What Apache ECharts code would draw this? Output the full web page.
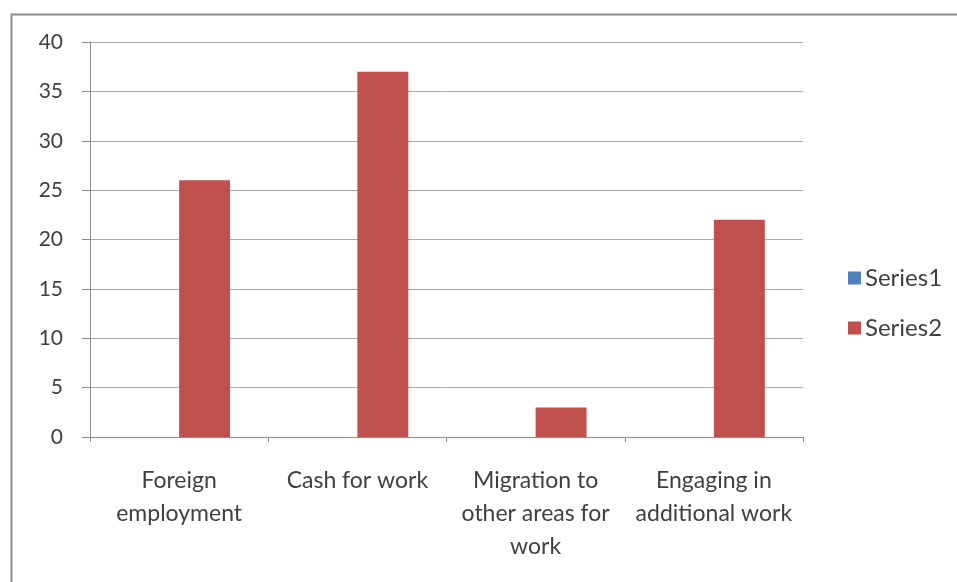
<!DOCTYPE html>
<html>
<head>
<meta charset="utf-8">
<script src="https://cdn.jsdelivr.net/npm/echarts@6/dist/echarts.min.js"></script>
<style>
  html, body { margin: 0; padding: 0; background: #ffffff; }
  #chart { width: 957px; height: 582px; }
</style>
</head>
<body>
<div id="chart"></div>
<script>
// Coping strategies, two series per category
const categories = [
  'Foreign\nemployment',
  'Cash for work',
  'Migration to\nother areas for\nwork',
  'Engaging in\nadditional work'
];
const series1Values = [0, 0, 0, 0];
const series2Values = [26, 37, 3, 22];
const seriesNames = ['Series1', 'Series2'];
const yMin = 0, yMax = 40, yStep = 5;

const textColor = '#404040';
const fontFamily = 'Lato, "Open Sans", sans-serif';

// one legend entry per box so each row can be placed on its own
function legendEntry(name, top) {
  return {
    orient: 'vertical',
    left: 843,
    top: top,
    itemWidth: 13,
    itemHeight: 13,
    itemGap: 0,
    icon: 'rect',
    data: [name],
    textStyle: { color: textColor, fontSize: 24, fontFamily: fontFamily, padding: [0, 0, 0, -1] }
  };
}

const chart = echarts.init(document.getElementById('chart'), null, { renderer: 'canvas' });

chart.setOption({
  animation: false,
  backgroundColor: '#ffffff',
  graphic: [{
    type: 'rect',
    left: 9,
    top: 12,
    shape: { width: 1000, height: 700 },
    style: { fill: 'none', stroke: '#8c8c8c', lineWidth: 2 },
    silent: true
  }],
  grid: { left: 90, right: 154, top: 42, bottom: 145, containLabel: false },
  legend: [legendEntry(seriesNames[0], 261), legendEntry(seriesNames[1], 311)],
  xAxis: {
    type: 'category',
    data: categories,
    boundaryGap: true,
    axisLine: { lineStyle: { color: '#8c8c8c', width: 1 } },
    axisTick: { show: true, length: 5, lineStyle: { color: '#8c8c8c' } },
    axisLabel: {
      interval: 0,
      margin: 27,
      color: textColor,
      fontSize: 23,
      lineHeight: 33,
      fontFamily: fontFamily,
      align: 'center'
    },
    splitLine: { show: false }
  },
  yAxis: {
    type: 'value',
    min: yMin,
    max: yMax,
    interval: yStep,
    axisLine: { show: true, lineStyle: { color: '#8c8c8c', width: 1 } },
    axisTick: { show: true, length: 8, lineStyle: { color: '#8c8c8c' } },
    axisLabel: { margin: 27, color: textColor, fontSize: 21, fontFamily: fontFamily },
    splitLine: { show: true, lineStyle: { color: '#ababab', width: 1 } }
  },
  series: [
    {
      name: seriesNames[0],
      type: 'bar',
      data: series1Values,
      itemStyle: { color: '#4F81BD' },
      barGap: '0%',
      barCategoryGap: '42.86%'
    },
    {
      name: seriesNames[1],
      type: 'bar',
      data: series2Values,
      itemStyle: { color: '#C0504D' },
      barGap: '0%',
      barCategoryGap: '42.86%'
    }
  ]
});
</script>
</body>
</html>
